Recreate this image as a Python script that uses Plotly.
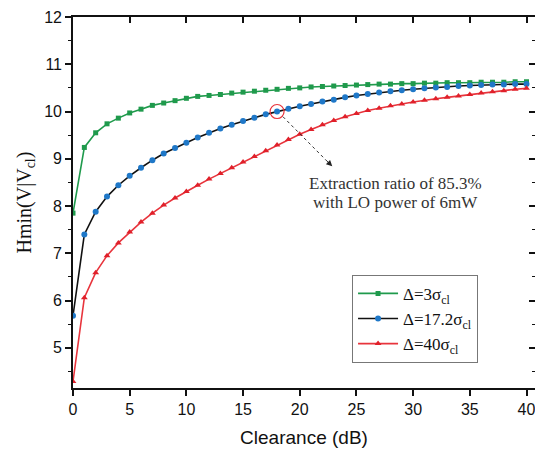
import plotly.graph_objects as go

clearance = list(range(0, 41))

h_3 = [7.85, 9.24, 9.55, 9.74, 9.86, 9.97, 10.05, 10.13, 10.18, 10.23, 10.28,
       10.32, 10.34, 10.36, 10.39, 10.41, 10.43, 10.45, 10.47, 10.49, 10.50,
       10.52, 10.53, 10.54, 10.55, 10.56, 10.57, 10.58, 10.58, 10.59, 10.59,
       10.60, 10.60, 10.61, 10.61, 10.61, 10.62, 10.62, 10.62, 10.63, 10.63]

h_17 = [5.68, 7.40, 7.88, 8.20, 8.44, 8.64, 8.81, 8.97, 9.11, 9.23, 9.34,
        9.45, 9.55, 9.64, 9.72, 9.80, 9.87, 9.94, 10.00, 10.06, 10.11,
        10.16, 10.21, 10.25, 10.30, 10.34, 10.37, 10.40, 10.43, 10.45, 10.47,
        10.49, 10.51, 10.52, 10.54, 10.55, 10.56, 10.57, 10.57, 10.58, 10.58]

h_40 = [4.29, 6.06, 6.59, 6.95, 7.22, 7.45, 7.66, 7.85, 8.02, 8.17, 8.31,
        8.44, 8.57, 8.69, 8.81, 8.93, 9.05, 9.17, 9.29, 9.41, 9.52,
        9.62, 9.72, 9.81, 9.89, 9.96, 10.02, 10.07, 10.12, 10.16, 10.20,
        10.24, 10.27, 10.30, 10.33, 10.36, 10.39, 10.42, 10.44, 10.47, 10.49]

labels = ["Δ=3σ<sub>cl</sub>", "Δ=17.2σ<sub>cl</sub>", "Δ=40σ<sub>cl</sub>"]

highlight_x = [18]
highlight_y = [10.0]
note_lines = ["Extraction ratio of 85.3%", "with LO power of 6mW"]
note_x = 28.45
note_y = [8.47, 8.07]
arrow_tail = (18.52, 9.89)
arrow_head = (22.87, 8.84)

x_ticks = [0, 5, 10, 15, 20, 25, 30, 35, 40]
y_ticks = [5, 6, 7, 8, 9, 10, 11, 12]

XR = [0, 40.75]
YR = [4.15, 12]

fig = go.Figure()

fig.add_trace(go.Scatter(
    x=clearance, y=h_3, name=labels[0], mode="lines+markers",
    line=dict(color="#1f9a4c", width=1.6),
    marker=dict(symbol="square", size=5, color="#1f9a4c")))
fig.add_trace(go.Scatter(
    x=clearance, y=h_17, name=labels[1], mode="lines+markers",
    line=dict(color="#111111", width=1.6),
    marker=dict(symbol="circle", size=6, color="#1f78c8")))
fig.add_trace(go.Scatter(
    x=clearance, y=h_40, name=labels[2], mode="lines+markers",
    line=dict(color="#e8343c", width=1.6),
    marker=dict(symbol="triangle-up", size=6, color="#e0202a")))

fig.add_trace(go.Scatter(
    x=highlight_x, y=highlight_y, mode="markers", showlegend=False,
    marker=dict(symbol="circle-open", size=14, color="#e8343c",
                line=dict(width=1.2, color="#e8343c"))))

# mirror axes with inward ticks
fig.add_trace(go.Scatter(x=[None], y=[None], xaxis="x2", yaxis="y2",
                         showlegend=False, hoverinfo="skip"))

# dotted arrow
fig.add_shape(type="line", x0=arrow_tail[0], y0=arrow_tail[1],
              x1=arrow_head[0] - 0.3, y1=arrow_head[1] + 0.07,
              line=dict(color="#333333", width=1, dash="dot"))
fig.add_annotation(x=arrow_head[0], y=arrow_head[1],
                   ax=arrow_head[0] - 0.6, ay=arrow_head[1] + 0.14,
                   axref="x", ayref="y", xref="x", yref="y", text="",
                   showarrow=True, arrowhead=2, arrowsize=1.2, arrowwidth=1,
                   arrowcolor="#222222")

for line, ly in zip(note_lines, note_y):
    fig.add_annotation(x=note_x, y=ly, xref="x", yref="y", text=line,
                       showarrow=False, align="center",
                       font=dict(family="Liberation Serif", size=17,
                                 color="#333333"))

axis_font = dict(family="Liberation Sans", size=16, color="#111111")

fig.update_layout(
    width=535, height=452,
    margin=dict(l=73, r=0, t=17, b=64),
    paper_bgcolor="white", plot_bgcolor="white",
    showlegend=True,
    legend=dict(x=0.604, y=0.305, xanchor="left", yanchor="top",
                bgcolor="white", bordercolor="#777777", borderwidth=1,
                font=dict(family="Liberation Serif", size=17, color="#111111"),
                itemwidth=40),
    xaxis=dict(range=XR, tickvals=x_ticks, ticks="outside", ticklen=6,
               tickwidth=1.5, tickcolor="#111111", showline=True,
               linecolor="#111111", linewidth=1.6, showgrid=False,
               zeroline=False, tickfont=axis_font, automargin=False,
               ticklabeloverflow="allow",
               title=dict(text="Clearance (dB)", standoff=14,
                          font=dict(family="Liberation Sans", size=19,
                                    color="#111111"))),
    yaxis=dict(range=YR, tickvals=y_ticks, ticks="outside", ticklen=6,
               tickwidth=1.5, tickcolor="#111111", showline=True,
               linecolor="#111111", linewidth=1.6, showgrid=False,
               zeroline=False, tickfont=axis_font, automargin=False,
               ticklabeloverflow="allow",
               minor=dict(dtick=0.5, ticks="outside", ticklen=3,
                          tickcolor="#111111", tickwidth=1.2),
               title=dict(text="Hmin(V|V<sub>cl</sub>)", standoff=7,
                          font=dict(family="Liberation Serif", size=20,
                                    color="#111111"))),
    xaxis2=dict(range=XR, overlaying="x", side="top", tickvals=x_ticks,
                ticks="inside", ticklen=6, tickwidth=1.5,
                tickcolor="#111111", showline=True, linecolor="#111111",
                linewidth=1.6, showgrid=False, zeroline=False,
                showticklabels=False, automargin=False),
    yaxis2=dict(range=YR, overlaying="y", side="right", tickvals=y_ticks,
                ticks="inside", ticklen=6, tickwidth=1.5,
                tickcolor="#111111", showline=True, linecolor="#111111",
                linewidth=1.6, showgrid=False, zeroline=False,
                showticklabels=False, automargin=False,
                minor=dict(dtick=0.5, ticks="inside", ticklen=3,
                           tickcolor="#111111", tickwidth=1.2)),
)

fig.write_html("out.html",
               config={"displayModeBar": False},
               post_script="document.body.style.margin='0';"
                           "document.body.style.overflow='hidden';")
